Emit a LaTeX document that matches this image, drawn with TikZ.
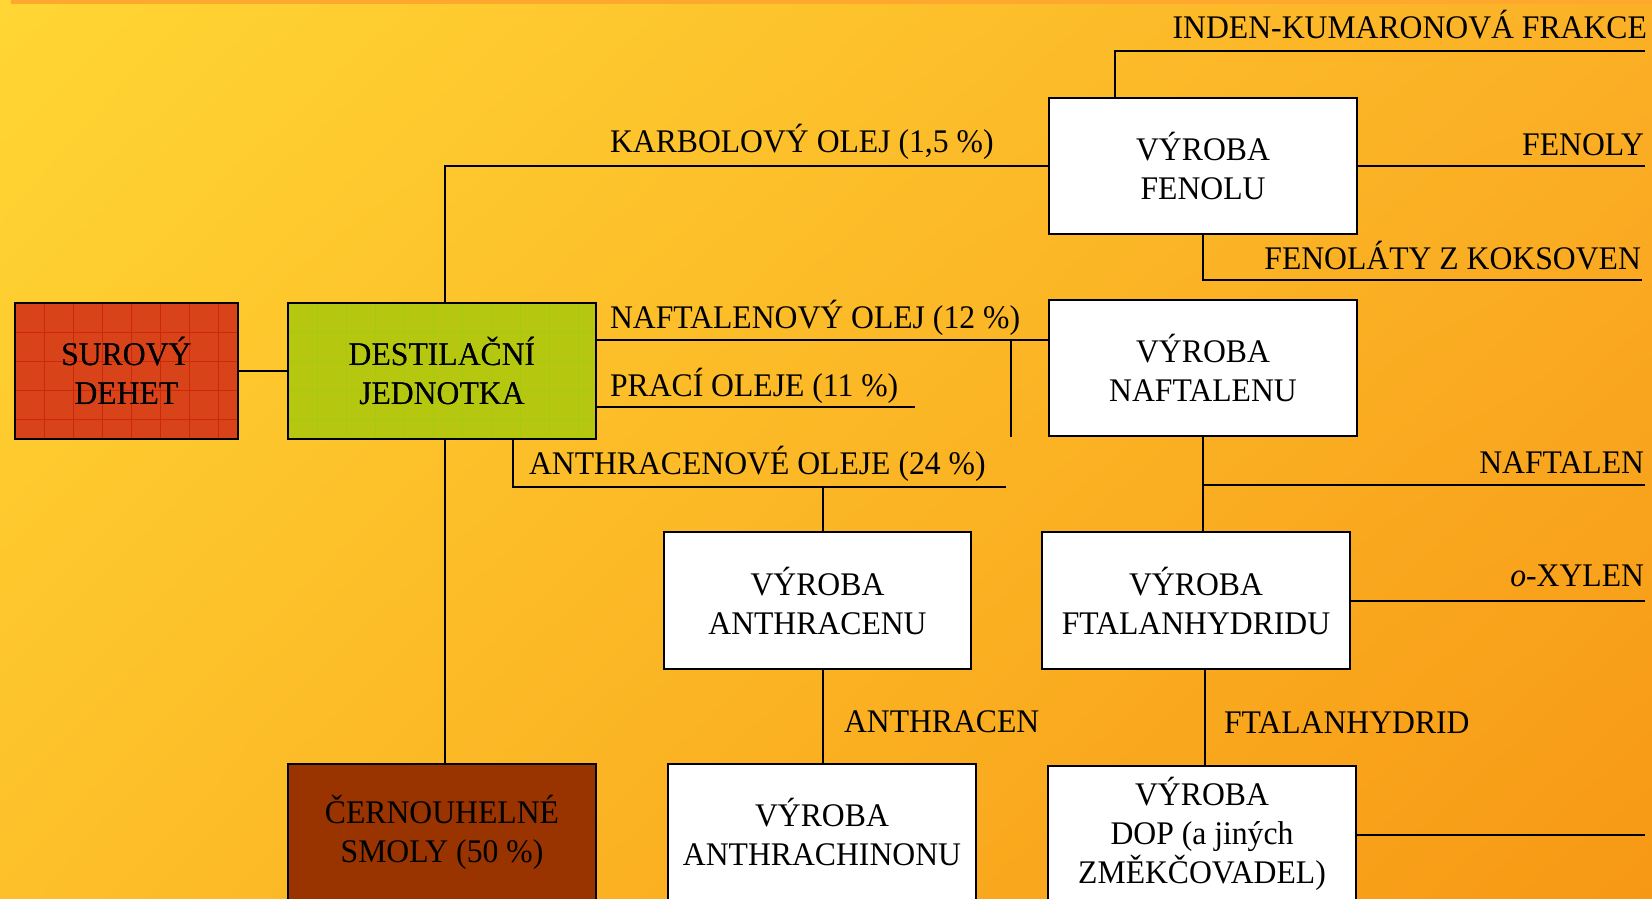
\documentclass[tikz,border=0pt]{standalone}
\usepackage{fontspec}
\setmainfont{Liberation Serif}[FakeStretch=0.96]
\usetikzlibrary{shadings}
\definecolor{bgTL}{RGB}{255,214,51}
\definecolor{bgTR}{RGB}{251,176,38}
\definecolor{bgBL}{RGB}{253,192,42}
\definecolor{bgBR}{RGB}{247,152,20}
\definecolor{stripe}{RGB}{255,168,46}
\definecolor{cRed}{RGB}{216,67,26}
\definecolor{cRedGrid}{RGB}{205,40,14}
\definecolor{cGreen}{RGB}{181,199,15}
\definecolor{cGreenGrid}{RGB}{166,202,18}
\definecolor{cBrown}{RGB}{153,51,0}
\begin{document}
\begin{tikzpicture}[x=1pt,y=-1pt,line width=2pt,
  box/.style={draw=black,line width=2pt,fill=white,minimum width=308pt,minimum height=136pt,
    align=center,inner sep=0pt,font=\fontsize{33}{39}\selectfont},
  lbl/.style={inner sep=0pt,font=\fontsize{33}{39}\selectfont},
  gridR/.style={draw=cRedGrid,line width=0.8pt},
  gridG/.style={draw=cGreenGrid,line width=0.8pt}]
\useasboundingbox (0,0) rectangle (1652,898);
\shade[upper left=bgTL,upper right=bgTR,lower left=bgBL,lower right=bgBR] (0,0) rectangle (1652,898);
\fill[stripe] (11,0) rectangle (1652,4);

% boxes
\node[box,fill=cRed,minimum width=223pt] (surovy) at (126.5,371) {SUROVÝ\\DEHET};
\foreach \i in {1,...,7} \draw[gridR] (15+29*\i,304) -- (15+29*\i,438);
\foreach \j in {1,...,4} \draw[gridR] (16,303+29*\j) -- (237,303+29*\j);
\node[box,fill=none,minimum width=223pt] at (126.5,371) {SUROVÝ\\DEHET};

\node[box,fill=cGreen] (destil) at (442,371) {DESTILAČNÍ\\JEDNOTKA};
\foreach \i in {1,...,10} \draw[gridG] (288+29*\i,304) -- (288+29*\i,438);
\foreach \j in {1,...,4} \draw[gridG] (289,303+29*\j) -- (595,303+29*\j);
\node[box,fill=none] at (442,371) {DESTILAČNÍ\\JEDNOTKA};

\node[box,fill=cBrown] (smoly) at (442,832) {ČERNOUHELNÉ\\SMOLY (50 \%)};
\node[box] (fenolu) at (1203,166) {VÝROBA\\FENOLU};
\node[box] (naftalenu) at (1203,368) {VÝROBA\\NAFTALENU};
\node[box,minimum width=307pt,minimum height=137pt] (anthracenu) at (817.5,600.5) {VÝROBA\\ANTHRACENU};
\node[box,minimum height=137pt] (ftal) at (1196,600.5) {VÝROBA\\FTALANHYDRIDU};
\node[box] (anthrachinonu) at (822,832) {VÝROBA\\ANTHRACHINONU};
\node[box] (dop) at (1202,834) {VÝROBA\\DOP (a jiných\\ZMĚKČOVADEL)};

% coordinates
\coordinate (dX) at (445,0);
\coordinate (nol) at (0,340);
\coordinate (vfreeA) at (1011,340);
\coordinate (vfreeB) at (1011,437);
\coordinate (pracEnd) at (915,407);
\coordinate (aoX) at (513,487);
\coordinate (aoEnd) at (1006,487);
\coordinate (aoTap) at (823,487);
\coordinate (ftX) at (1205,0);
\coordinate (nafEnd) at (1645,485);
\coordinate (oxEnd) at (1645,600);
\coordinate (dopEnd) at (1645,835);
\coordinate (indX) at (1115,51);
\coordinate (indEnd) at (1645,51);
\coordinate (fenEnd) at (1645,166);
\coordinate (fltEnd) at (1642,280);

% connectors
\draw (surovy) -- (destil);
\draw (destil.north -| dX) |- (fenolu.west);
\draw (destil.east |- nol) -- (naftalenu.west |- nol);
\draw (vfreeA) -- (vfreeB);
\draw (destil.east |- pracEnd) -- (pracEnd);
\draw (destil.south -| aoX) -- (aoX) -- (aoEnd);
\draw (aoTap) -- (aoTap |- anthracenu.north);
\draw (anthracenu.south -| aoTap) -- (anthrachinonu.north -| aoTap);
\draw (destil.south -| dX) -- (smoly.north -| dX);
\draw (naftalenu.south) -- (naftalenu.south |- ftal.north);
\draw (naftalenu.south |- nafEnd) -- (nafEnd);
\draw (ftal.east) -- (ftal.east -| oxEnd);
\draw (ftal.south -| ftX) -- (dop.north -| ftX);
\draw (dop.east |- dopEnd) -- (dopEnd);
\draw (fenolu.north -| indX) -- (indX) -- (indEnd);
\draw (fenolu.east) -- (fenEnd);
\draw (fenolu.south) |- (fltEnd);

% labels
\node[lbl,anchor=base east] (lInd) at (1648,38) {INDEN-KUMARONOVÁ FRAKCE};
\node[lbl,anchor=base east] (lFen) at (1645,155) {FENOLY};
\node[lbl,anchor=base east] (lFlt) at (1642,269) {FENOLÁTY Z KOKSOVEN};
\node[lbl,anchor=base east] (lNaf) at (1645,473) {NAFTALEN};
\node[lbl,anchor=base east] (lOx) at (1645,586) {\textit{o}-XYLEN};
\node[lbl,anchor=base west] (lKar) at (609,152) {KARBOLOVÝ OLEJ (1,5 \%)};
\node[lbl,anchor=base west] (lNo) at (609,328) {NAFTALENOVÝ OLEJ (12 \%)};
\node[lbl,anchor=base west] (lPr) at (609,396) {PRACÍ OLEJE (11 \%)};
\node[lbl,anchor=base west] (lAo) at (528,474) {ANTHRACENOVÉ OLEJE (24 \%)};
\node[lbl,anchor=base west] (lAn) at (843,732) {ANTHRACEN};
\node[lbl,anchor=base west] (lFt) at (1223,733) {FTALANHYDRID};
\end{tikzpicture}
\end{document}
